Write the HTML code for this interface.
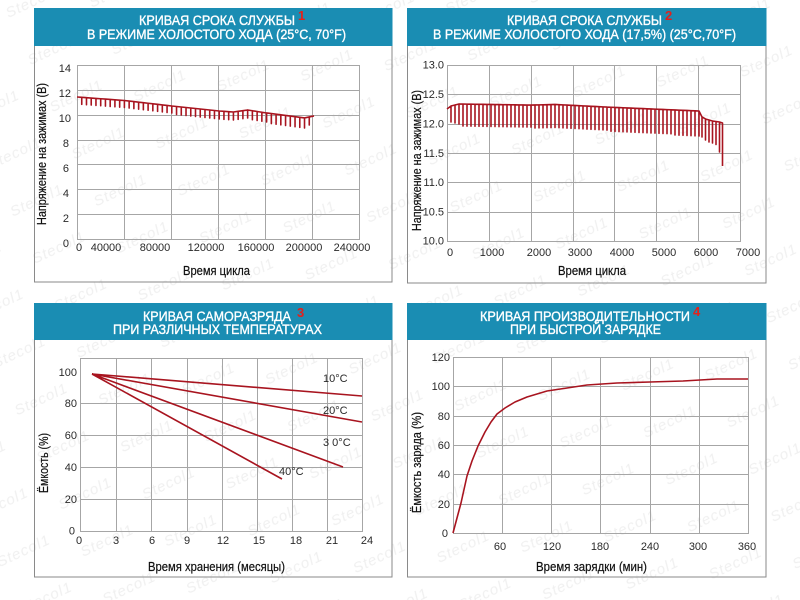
<!DOCTYPE html>
<html><head><meta charset="utf-8"><style>
html,body{margin:0;padding:0;background:#fff;width:800px;height:600px;overflow:hidden}
svg{display:block}
text{font-family:"Liberation Sans","DejaVu Sans",sans-serif}
.hd{fill:#fff;font-size:13.5px;stroke:#fff;stroke-width:0.35}
.num{fill:#e3201b;font-size:13px;font-weight:bold}
.tk{fill:#2a2a2a;font-size:11px}
.ax{fill:#111;font-size:12.5px;stroke:#111;stroke-width:0.2}
.g{stroke:#a6a6a6;stroke-width:1;fill:none}
.s{stroke:#a8141f;stroke-width:1.6;fill:none;stroke-linejoin:round}
.wm{fill:#f0f0f0;font-size:15px;font-style:italic;letter-spacing:1px}
</style></head><body>
<svg width="800" height="600" viewBox="0 0 800 600" xmlns="http://www.w3.org/2000/svg">
<defs>
<pattern id="wm" patternUnits="userSpaceOnUse" width="160" height="52" patternTransform="rotate(-25)">
<text class="wm" x="0" y="20">Stecol1</text>
<text class="wm" x="80" y="46">Stecol1</text>
</pattern>
</defs>
<rect width="800" height="600" fill="#fff"/>
<rect width="800" height="600" fill="url(#wm)"/>

<!-- Panel frames -->
<g fill="none" stroke="#8a8a8a" stroke-width="1">
<rect x="34.5" y="8.5" width="357.5" height="273.5"/>
<rect x="407.5" y="8.5" width="358.5" height="274.5"/>
<rect x="34.5" y="303.5" width="357.5" height="273.5"/>
<rect x="407.5" y="303.5" width="358.5" height="273.5"/>
</g>
<g fill="#1a8db3">
<rect x="34" y="8" width="358.5" height="38"/>
<rect x="407" y="8" width="359.5" height="38"/>
<rect x="34" y="303" width="358.5" height="37"/>
<rect x="407" y="303" width="359.5" height="37"/>
</g>

<!-- Headers -->
<text class="hd" x="139" y="25" textLength="156" lengthAdjust="spacingAndGlyphs">КРИВАЯ СРОКА СЛУЖБЫ</text>
<text class="num" x="298" y="20">1</text>
<text class="hd" x="87" y="39" textLength="259" lengthAdjust="spacingAndGlyphs">В РЕЖИМЕ ХОЛОСТОГО ХОДА (25°C, 70°F)</text>

<text class="hd" x="507" y="25" textLength="155" lengthAdjust="spacingAndGlyphs">КРИВАЯ СРОКА СЛУЖБЫ</text>
<text class="num" x="665" y="20">2</text>
<text class="hd" x="433" y="39" textLength="303" lengthAdjust="spacingAndGlyphs">В РЕЖИМЕ ХОЛОСТОГО ХОДА (17,5%) (25°C,70°F)</text>

<text class="hd" x="143" y="321" textLength="148" lengthAdjust="spacingAndGlyphs">КРИВАЯ САМОРАЗРЯДА</text>
<text class="num" x="297" y="317">3</text>
<text class="hd" x="113" y="334" textLength="209" lengthAdjust="spacingAndGlyphs">ПРИ РАЗЛИЧНЫХ ТЕМПЕРАТУРАХ</text>

<text class="hd" x="480" y="321" textLength="210" lengthAdjust="spacingAndGlyphs">КРИВАЯ ПРОИЗВОДИТЕЛЬНОСТИ</text>
<text class="num" x="693" y="316">4</text>
<text class="hd" x="510" y="334" textLength="151" lengthAdjust="spacingAndGlyphs">ПРИ БЫСТРОЙ ЗАРЯДКЕ</text>

<!-- ===== Panel 1 ===== -->
<path class="g" d="M77.5,65V239.5M124.5,65V239.5M171.5,65V239.5M218.5,65V239.5M265.5,65V239.5M312.5,65V239.5M359.5,65V239.5
M77,65.5H360M77,90.5H360M77,115.5H360M77,140.5H360M77,164.5H360M77,189.5H360M77,214.5H360M77,239.5H360"/>
<g class="tk" text-anchor="end">
<text x="71" y="72">14</text><text x="71" y="97">12</text><text x="71" y="122">10</text>
<text x="69" y="147">8</text><text x="69" y="172">6</text><text x="69" y="197">4</text>
<text x="69" y="222">2</text><text x="69" y="247">0</text>
</g>
<g class="tk" text-anchor="middle">
<text x="79" y="251">0</text><text x="106" y="251">40000</text><text x="155" y="251">80000</text>
<text x="206" y="251">120000</text><text x="256" y="251">160000</text><text x="304" y="251">200000</text>
<text x="352" y="251">240000</text>
</g>
<text class="ax" x="183" y="275" textLength="67" lengthAdjust="spacingAndGlyphs">Время цикла</text>
<text class="ax" transform="translate(46,225) rotate(-90)" x="0" y="0" textLength="142" lengthAdjust="spacingAndGlyphs">Напряжение на зажимах (В)</text>
<path class="s" d="M77,97
l4.74,.35v7v-7l4.74,.35v7v-7l4.74,.35v7v-7l4.74,.35v7v-7l4.74,.35v7v-7l4.74,.35v7v-7l4.74,.35v7v-7l4.74,.35v7v-7l4.74,.35v7v-7l4.74,.35v7v-7
l4.74,.55v7v-7l4.74,.55v7v-7l4.74,.55v7v-7l4.74,.55v7v-7l4.74,.55v7v-7l4.74,.55v7v-7l4.74,.55v7v-7l4.74,.55v7v-7l4.74,.55v7v-7l4.74,.55v7v-7
l4.74,.5v8v-8l4.74,.5v8v-8l4.74,.5v8v-8l4.74,.5v8v-8l4.74,.5v8v-8l4.74,.5v8v-8l4.74,.5v8v-8l4.74,.5v8v-8l4.74,.5v8v-8l4.74,.5v8v-8
l4.74,.33v8v-8l4.74,.33v8v-8l4.74,.33v8v-8
l4.74,-.67v8v-8l4.74,-.67v8v-8l4.74,-.67v8v-8
l4.74,.75v9v-9l4.74,.75v9v-9l4.74,.75v9v-9l4.74,.75v9v-9
l4.74,.62v10v-10l4.74,.62v10v-10l4.74,.62v10v-10l4.74,.62v10v-10l4.74,.62v10v-10l4.74,.62v10v-10l4.74,.62v10v-10l4.74,.62v10v-10
l4.74,-1v8v-8l4.74,-1"/>

<!-- ===== Panel 2 ===== -->
<path class="g" d="M447.5,65V241.5M489.5,65V241.5M531.5,65V241.5M573.5,65V241.5M614.5,65V241.5M656.5,65V241.5M698.5,65V241.5M740.5,65V241.5
M447,65.5H741M447,94.5H741M447,124.5H741M447,153.5H741M447,182.5H741M447,212.5H741M447,241.5H741"/>
<g class="tk" text-anchor="end">
<text x="444" y="68.5">13.0</text><text x="444" y="98">12.5</text><text x="444" y="127.5">12.0</text>
<text x="444" y="157">11.5</text><text x="444" y="186">11.0</text><text x="444" y="215.5">10.5</text>
<text x="444" y="244.5">10.0</text>
</g>
<g class="tk" text-anchor="middle">
<text x="450" y="256">0</text><text x="492" y="256">1000</text><text x="539" y="256">2000</text>
<text x="580" y="256">3000</text><text x="622" y="256">4000</text><text x="664" y="256">5000</text>
<text x="706" y="256">6000</text><text x="748" y="256">7000</text>
</g>
<text class="ax" x="558" y="275" textLength="68" lengthAdjust="spacingAndGlyphs">Время цикла</text>
<text class="ax" transform="translate(421,231) rotate(-90)" x="0" y="0" textLength="141" lengthAdjust="spacingAndGlyphs">Напряжение на зажимах (В)</text>
<path class="s" stroke-width="1.4" d="M447,109
l4,-3v16v-16l4,-1v18v-18l4,-1v20v-20
l4,.06v22v-22l4,.06v22v-22l4,.06v22v-22l4,.06v22v-22l4,.06v22v-22l4,.06v22v-22l4,.06v22v-22l4,.06v22v-22l4,.06v22v-22
l4,.06v22v-22l4,.06v22v-22l4,.06v22v-22l4,.06v22v-22l4,.06v22v-22l4,.06v22v-22l4,.06v22v-22l4,.06v22v-22l4,.06v22v-22
l4,-.1v23v-23l4,-.1v23v-23l4,-.1v23v-23l4,-.1v23v-23l4,-.1v23v-23l4,-.1v23v-23
l4,.2v23v-23l4,.2v23v-23l4,.2v23v-23l4,.2v23v-23l4,.2v23v-23l4,.2v23v-23l4,.2v23v-23l4,.2v23v-23l4,.2v23v-23l4,.2v23v-23l4,.2v23v-23l4,.2v23v-23l4,.2v23v-23
l4,.17v24v-24l4,.17v24v-24l4,.17v24v-24l4,.17v24v-24l4,.17v24v-24l4,.17v24v-24l4,.17v24v-24l4,.17v24v-24
l4,.17v24v-24l4,.17v24v-24l4,.17v24v-24l4,.17v24v-24l4,.17v24v-24l4,.17v24v-24l4,.17v24v-24l4,.17v24v-24
l4,.17v25v-25l4,.17v25v-25l4,.17v25v-25l4,.17v25v-25l4,.17v25v-25l4,.17v25v-25l4,.17v25v-25
l3,6v20v-20l3.5,2v21v-21l3.5,1v22v-22l3.5,1v22v-22l3.5,.5v23v-23l3.5,.5v30v-30l3,1v43"/>

<!-- ===== Panel 3 ===== -->
<path class="g" d="M80.5,358V531.5M116.5,358V531.5M151.5,358V531.5M187.5,358V531.5M222.5,358V531.5M257.5,358V531.5M292.5,358V531.5M327.5,358V531.5M362.5,358V531.5
M80,358.5H363M80,403.5H363M80,435.5H363M80,467.5H363M80,499.5H363M80,531.5H363"/>
<g class="tk" text-anchor="end">
<text x="77" y="376">100</text><text x="77" y="407">80</text><text x="77" y="439">60</text>
<text x="77" y="471">40</text><text x="77" y="503">20</text><text x="75" y="534.5">0</text>
</g>
<g class="tk" text-anchor="middle">
<text x="79" y="544">0</text><text x="116" y="544">3</text><text x="152" y="544">6</text>
<text x="187" y="544">9</text><text x="223" y="544">12</text><text x="259" y="544">15</text>
<text x="296" y="544">18</text><text x="332" y="544">21</text><text x="367" y="544">24</text>
</g>
<text class="ax" x="148" y="571" textLength="137" lengthAdjust="spacingAndGlyphs">Время хранения (месяцы)</text>
<text class="ax" transform="translate(48,493) rotate(-90)" x="0" y="0" textLength="60" lengthAdjust="spacingAndGlyphs">Ёмкость (%)</text>
<path class="s" d="M92,374L362,396M92,374L362,422M92,374L343,467M92,374L282,479"/>
<g class="tk" font-size="11.5">
<text x="323" y="382">10°C</text><text x="323" y="414">20°C</text>
<text x="323" y="446">3 0°C</text><text x="279" y="475">40°C</text>
</g>

<!-- ===== Panel 4 ===== -->
<path class="g" d="M453.5,357V533.5M502.5,357V533.5M551.5,357V533.5M600.5,357V533.5M650.5,357V533.5M699.5,357V533.5M748.5,357V533.5
M453,357.5H749M453,386.5H749M453,416.5H749M453,445.5H749M453,474.5H749M453,504.5H749M453,533.5H749"/>
<g class="tk" text-anchor="end">
<text x="450" y="361">120</text><text x="450" y="390">100</text><text x="450" y="420">80</text>
<text x="450" y="449">60</text><text x="450" y="478">40</text><text x="450" y="508">20</text>
<text x="448" y="537">0</text>
</g>
<g class="tk" text-anchor="middle">
<text x="500" y="550">60</text><text x="552" y="550">120</text><text x="600" y="550">180</text>
<text x="650" y="550">240</text><text x="698" y="550">300</text><text x="747" y="550">360</text>
</g>
<text class="ax" x="536" y="571" textLength="111" lengthAdjust="spacingAndGlyphs">Время зарядки (мин)</text>
<text class="ax" transform="translate(421,513) rotate(-90)" x="0" y="0" textLength="101" lengthAdjust="spacingAndGlyphs">Ёмкость заряда (%)</text>
<path class="s" d="M453,533L457,518L461,503L467,476L472,461L478,446L485,432L491,422L497,414L505,408L515,402L527,397L547,391L567,388L587,385L617,383L650,382L683,381L717,379L748,379"/>
</svg>
</body></html>
